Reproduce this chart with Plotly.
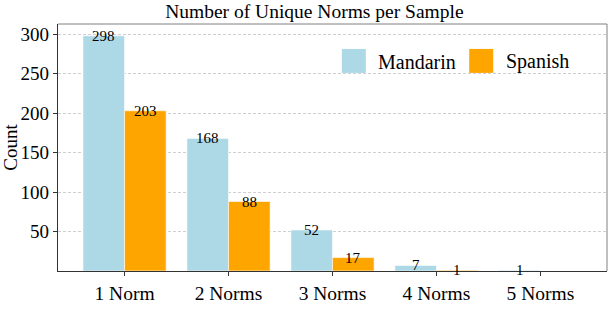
import plotly.graph_objects as go

categories = ["1 Norm", "2 Norms", "3 Norms", "4 Norms", "5 Norms"]
mandarin = [298, 168, 52, 7, 1]
spanish = [203, 88, 17, 1, 0]
series_names = ["Mandarin", "Spanish"]
colors = ["#add8e6", "#ffa500"]
y_ticks = [50, 100, 150, 200, 250, 300]

FONT = "Liberation Serif, Times New Roman, serif"
xpos = list(range(len(categories)))

fig = go.Figure()
for name, vals, col in zip(series_names, [mandarin, spanish], colors):
    fig.add_trace(go.Bar(x=xpos, y=vals, name=name, marker=dict(color=col, line=dict(color="white", width=0.6)),
                         showlegend=False, hoverinfo="skip"))

# value labels centred on bar tops
annos = []
for offset, vals in [(-0.2, mandarin), (0.2, spanish)]:
    for i, v in enumerate(vals):
        if v > 0:
            annos.append(dict(x=i + offset, y=v, xref="x", yref="y", text=str(v), showarrow=False,
                              yanchor="middle", xanchor="center", font=dict(family=FONT, size=15, color="black")))

# legend (large swatches)
shapes = []
leg = [(0.517, 0.579, "Mandarin", colors[0]), (0.749, 0.813, "Spanish", colors[1])]
for sx, tx, label, col in leg:
    shapes.append(dict(type="rect", xref="paper", yref="paper", x0=sx, x1=sx + 0.0437, y0=0.802, y1=0.899,
                       fillcolor=col, line=dict(width=0)))
    annos.append(dict(x=tx, y=0.848, xref="paper", yref="paper", text=label, showarrow=False,
                      xanchor="left", yanchor="middle", font=dict(family=FONT, size=20, color="black")))

# top and right spines in gray
shapes.append(dict(type="line", xref="paper", yref="paper", x0=0, x1=1, y0=1, y1=1, line=dict(color="#808080", width=1)))
shapes.append(dict(type="line", xref="paper", yref="paper", x0=1, x1=1, y0=0, y1=1, line=dict(color="#808080", width=1)))

fig.update_layout(
    width=608, height=324,
    margin=dict(l=58, r=1, t=24, b=53, autoexpand=False),
    paper_bgcolor="white", plot_bgcolor="white",
    barmode="group", bargap=0.2, bargroupgap=0,
    font=dict(family=FONT, color="black"),
    title=dict(text="Number of Unique Norms per Sample", x=0.467, xref="paper", xanchor="center",
               y=0.964, yref="container", yanchor="middle",
               font=dict(family=FONT, size=19.5, color="black")),
    annotations=annos, shapes=shapes,
)
fig.update_xaxes(range=[-0.64, 4.64], tickvals=xpos, ticktext=categories, showgrid=False, automargin=False,
                 showline=True, linecolor="#333333", linewidth=1.2, ticks="outside", ticklen=4,
                 tickcolor="#333333", tickfont=dict(family=FONT, size=19.5, color="black"), zeroline=False)
fig.update_yaxes(range=[0, 312.9], tickvals=y_ticks, showgrid=True, gridcolor="#cfcfcf", griddash="3px,2px",
                 gridwidth=0.8, showline=True, linecolor="#333333", linewidth=1.2, ticks="outside", ticklen=4,
                 automargin=False,
                 tickcolor="#333333", tickfont=dict(family=FONT, size=19, color="black"), zeroline=False,
                 title=dict(text="Count", font=dict(family=FONT, size=19, color="black"), standoff=5))

fig.write_html("out.html", config={"displayModeBar": False},
               post_script="document.body.style.margin='0';document.body.style.padding='0';")
